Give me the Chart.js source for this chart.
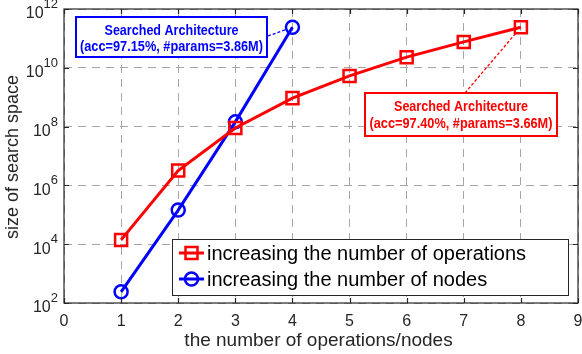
<!DOCTYPE html>
<html>
<head>
<meta charset="utf-8">
<script src="https://cdn.jsdelivr.net/npm/chart.js@4.4.1/dist/chart.umd.min.js"></script>
<style>
  html, body { margin: 0; padding: 0; background: #fff; }
  #wrap { width: 582px; height: 354px; }
</style>
</head>
<body>
<div id="wrap"><canvas id="chart"></canvas></div>
<script>
// --- data ---
const opsX = [1, 2, 3, 4, 5, 6, 7, 8];
const opsY = [1.4e4, 3.2e6, 9e7, 9.3e8, 5.3e9, 2.3e10, 7.6e10, 2.4e11];
const nodesX = [1, 2, 3, 4];
const nodesY = [2.4e2, 1.45e5, 1.45e8, 2.4e11];
const xTicks = [0, 1, 2, 3, 4, 5, 6, 7, 8, 9];
const yExponents = [2, 4, 6, 8, 10, 12];
const seriesLabels = ['increasing the number of operations', 'increasing the number of nodes'];
const xTitle = 'the number of operations/nodes';
const yTitle = 'size of search space';
const blueNote = ['Searched Architecture', '(acc=97.15%, #params=3.86M)'];
const redNote = ['Searched Architecture', '(acc=97.40%, #params=3.66M)'];

const RED = '#ff0000';
const BLUE = '#0000ff';
const AXIS = '#262626';
const FONT = "'Liberation Sans', Arial, sans-serif";

const toPoints = (xs, ys) => xs.map((x, i) => ({ x, y: ys[i] }));

// draws the MATLAB-like frame, superscript ticks, titles, notes and legend
const figurePlugin = {
    id: 'figure',
    afterDatasetsDraw(chart) {
        const { ctx, chartArea: a, scales: { x, y } } = chart;
        ctx.save();

        // annotation boxes with dashed leaders
        const drawNote = (lines, box, color, target, from, r) => {
            const px = x.getPixelForValue(target.x);
            const py = y.getPixelForValue(target.y);
            const dx = px - from[0], dy = py - from[1];
            const len = Math.hypot(dx, dy);
            ctx.strokeStyle = color;
            ctx.lineWidth = 1.3;
            ctx.setLineDash([3, 2]);
            ctx.beginPath();
            ctx.moveTo(from[0], from[1]);
            ctx.lineTo(px - dx / len * r, py - dy / len * r);
            ctx.stroke();
            ctx.setLineDash([]);

            ctx.fillStyle = '#fff';
            ctx.fillRect(box.x, box.y, box.w, box.h);
            ctx.lineWidth = 2;
            ctx.strokeRect(box.x, box.y, box.w, box.h);
            ctx.fillStyle = color;
            ctx.font = 'bold 14px ' + FONT;
            ctx.textAlign = 'center';
            ctx.textBaseline = 'alphabetic';
            const cx = box.x + box.w / 2;
            ctx.fillText(lines[0], cx, box.y + box.b1, 134);
            ctx.fillText(lines[1], cx, box.y + box.b2, 183);
        };
        drawNote(blueNote, { x: 76, y: 17, w: 191, h: 40, b1: 18, b2: 33.5 }, BLUE,
            { x: nodesX[3], y: nodesY[3] }, [268, 36], 7);
        drawNote(redNote, { x: 365, y: 93, w: 192, h: 43, b1: 17.5, b2: 35 }, RED,
            { x: opsX[7], y: opsY[7] }, [465, 93], 8);

        // legend
        const lg = { x: 172.5, y: 239.5, w: 396, h: 56 };
        ctx.fillStyle = '#fff';
        ctx.fillRect(lg.x, lg.y, lg.w, lg.h);
        ctx.strokeStyle = AXIS;
        ctx.lineWidth = 1;
        ctx.strokeRect(lg.x, lg.y, lg.w, lg.h);
        const rows = [253, 279];
        chart.data.datasets.forEach((ds, i) => {
            const ry = rows[i];
            ctx.strokeStyle = ds.borderColor;
            ctx.lineWidth = 3;
            ctx.beginPath();
            ctx.moveTo(179, ry);
            ctx.lineTo(204, ry);
            ctx.stroke();
            ctx.lineWidth = 2.5;
            ctx.beginPath();
            if (ds.pointStyle === 'rect') {
                ctx.rect(185.5, ry - 6, 12, 12);
            } else {
                ctx.arc(191.5, ry, 6.5, 0, Math.PI * 2);
            }
            ctx.stroke();
            ctx.fillStyle = '#000';
            ctx.font = '20px ' + FONT;
            ctx.textAlign = 'left';
            ctx.textBaseline = 'middle';
            ctx.fillText(ds.label, 207, ry + 1, 353);
        });

        // frame and inward ticks
        ctx.strokeStyle = AXIS;
        ctx.lineWidth = 1.2;
        ctx.strokeRect(a.left, a.top, a.right - a.left, a.bottom - a.top);
        ctx.beginPath();
        x.ticks.forEach(t => {
            const px = Math.round(x.getPixelForValue(t.value)) + 0.5;
            ctx.moveTo(px, a.bottom); ctx.lineTo(px, a.bottom - 5);
            ctx.moveTo(px, a.top); ctx.lineTo(px, a.top + 5);
        });
        y.ticks.forEach(t => {
            const py = Math.round(y.getPixelForValue(t.value)) + 0.5;
            ctx.moveTo(a.left, py); ctx.lineTo(a.left + 5, py);
            ctx.moveTo(a.right, py); ctx.lineTo(a.right - 5, py);
        });
        ctx.stroke();

        // tick labels
        ctx.fillStyle = AXIS;
        ctx.textBaseline = 'middle';
        ctx.font = '16px ' + FONT;
        ctx.textAlign = 'center';
        x.ticks.forEach(t => {
            ctx.fillText(String(t.value), x.getPixelForValue(t.value), a.bottom + 19);
        });
        y.ticks.forEach(t => {
            const py = y.getPixelForValue(t.value);
            const exp = String(Math.round(Math.log10(t.value)));
            ctx.font = '13px ' + FONT;
            ctx.textAlign = 'right';
            const ew = ctx.measureText(exp).width;
            ctx.fillText(exp, a.left - 6, py - 4.5);
            ctx.font = '16px ' + FONT;
            ctx.fillText('10', a.left - 6 - ew, py + 5);
        });

        // axis titles
        ctx.font = '19px ' + FONT;
        ctx.textAlign = 'center';
        ctx.fillText(xTitle, 318.5, a.bottom + 38);
        ctx.font = '18px ' + FONT;
        ctx.translate(13, 157);
        ctx.rotate(-Math.PI / 2);
        ctx.fillText(yTitle, 0, 0);
        ctx.restore();
    }
};

new Chart(document.getElementById('chart'), {
    type: 'line',
    data: {
        datasets: [
            {
                label: seriesLabels[0],
                data: toPoints(opsX, opsY),
                borderColor: RED,
                backgroundColor: 'transparent',
                borderWidth: 3,
                pointStyle: 'rect',
                pointRadius: 8.5,
                pointBorderWidth: 2.5,
                pointBorderColor: RED,
                pointBackgroundColor: 'transparent',
                tension: 0
            },
            {
                label: seriesLabels[1],
                data: toPoints(nodesX, nodesY),
                borderColor: BLUE,
                backgroundColor: 'transparent',
                borderWidth: 3,
                pointStyle: 'circle',
                pointRadius: 6.5,
                pointBorderWidth: 2.5,
                pointBorderColor: BLUE,
                pointBackgroundColor: 'transparent',
                tension: 0
            }
        ]
    },
    options: {
        responsive: true,
        maintainAspectRatio: false,
        animation: false,
        clip: false,
        layout: { autoPadding: false, padding: { left: 0, right: 4, top: 9, bottom: 0 } },
        plugins: {
            legend: { display: false },
            tooltip: { enabled: false }
        },
        scales: {
            x: {
                type: 'linear',
                min: xTicks[0],
                max: xTicks[xTicks.length - 1],
                afterBuildTicks: s => { s.ticks = xTicks.map(v => ({ value: v })); },
                afterFit: s => { s.height = 51; },
                ticks: { display: false },
                grid: { color: '#a6a6a6', lineWidth: 1, drawTicks: false },
                border: { display: false, dash: [8, 6] }
            },
            y: {
                type: 'logarithmic',
                min: 10 ** yExponents[0],
                max: 10 ** yExponents[yExponents.length - 1],
                afterBuildTicks: s => { s.ticks = yExponents.map(e => ({ value: 10 ** e })); },
                afterFit: s => { s.width = 64; },
                ticks: { display: false },
                grid: { color: '#a6a6a6', lineWidth: 1, drawTicks: false },
                border: { display: false, dash: [8, 6] }
            }
        }
    },
    plugins: [figurePlugin]
});
</script>
</body>
</html>
